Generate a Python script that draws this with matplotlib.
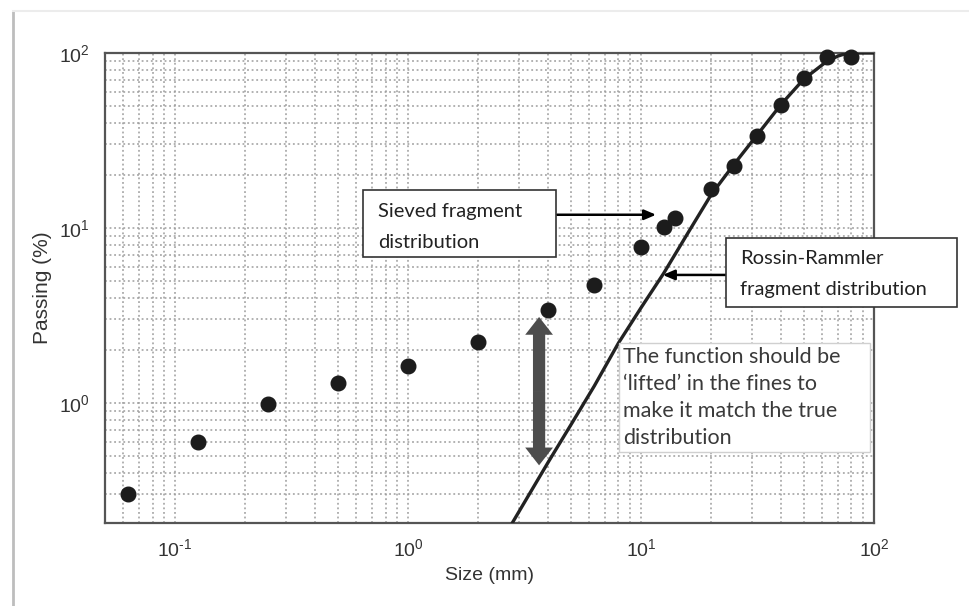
import matplotlib
matplotlib.use("Agg")
import math
import matplotlib.pyplot as plt
from matplotlib.patches import Rectangle, FancyArrowPatch
from matplotlib.lines import Line2D
from matplotlib.ticker import LogLocator, FuncFormatter, NullFormatter

plt.rcParams['mathtext.fontset'] = 'custom'
plt.rcParams['mathtext.rm'] = 'Liberation Sans'
plt.rcParams['mathtext.it'] = 'Liberation Sans'
plt.rcParams['font.family'] = ['Liberation Sans', 'DejaVu Sans']

# Sieved fragment distribution (points)
sieve_size = [0.063, 0.125, 0.25, 0.5, 1.0, 2.0, 4.0, 6.3, 10.0, 12.5, 14.0,
              20.0, 25.0, 31.5, 40.0, 50.0, 63.0, 80.0]
sieve_pass = [0.30, 0.60, 0.99, 1.30, 1.63, 2.23, 3.39, 4.7, 7.8, 10.1, 11.4,
              16.7, 22.6, 33.5, 50.6, 72.0, 95.0, 95.0]

# Rossin-Rammler curve
rr_size = [2.8, 4.0, 5.0, 6.3, 8.0, 10.0, 12.5, 16.0, 20.0, 25.0, 31.5,
           40.0, 50.0, 63.0, 70.0, 77.0, 100.0]
rr_pass = [0.206, 0.46, 0.75, 1.25, 2.2, 3.5, 5.5, 9.5, 15.5, 23.0, 34.0,
           51.0, 71.0, 90.0, 96.0, 100.0, 100.0]

# Annotation texts
box1_lines = ["Sieved fragment", "distribution"]
box2_lines = ["Rossin-Rammler", "fragment distribution"]
box3_lines = ["The function should be", "\u2018lifted\u2019 in the fines to",
              "make it match the true", "distribution"]

W, H = 969, 606
fig = plt.figure(figsize=(W / 100, H / 100), dpi=100)

def fx(px):
    return px / W

def fy(py):
    return 1 - py / H

ax = fig.add_axes([fx(105), fy(523), fx(874) - fx(105), fy(53) - fy(523)])
ax.set_xscale('log')
ax.set_yscale('log')
ax.set_xlim(0.05, 100)
ax.set_ylim(0.206, 100)

ax.grid(True, which='both', linestyle=(0, (1.2, 1.8)), color='#9c9c9c', linewidth=1.1)
ax.xaxis.set_major_locator(LogLocator(base=10, numticks=10))
ax.xaxis.set_minor_locator(LogLocator(base=10, subs=range(2, 10), numticks=20))
ax.yaxis.set_major_locator(LogLocator(base=10, numticks=10))
ax.yaxis.set_minor_locator(LogLocator(base=10, subs=range(2, 10), numticks=20))

def fmt(v, pos):
    e = int(round(math.log10(v)))
    s = str(e).replace('-', '\u2010')
    return r'$\mathregular{10^{%s}}$' % s

ax.xaxis.set_major_formatter(FuncFormatter(fmt))
ax.yaxis.set_major_formatter(FuncFormatter(fmt))
ax.xaxis.set_minor_formatter(NullFormatter())
ax.yaxis.set_minor_formatter(NullFormatter())
ax.tick_params(which='both', direction='in', length=0, labelsize=14,
               labelcolor='#333333')
ax.tick_params(axis='x', pad=11)
ax.tick_params(axis='y', pad=11)
for s in ax.spines.values():
    s.set_color('#555555')
    s.set_linewidth(1.6)

ax.plot(rr_size, rr_pass, color='#222222', linewidth=2.4, zorder=3, clip_on=True)
ax.plot(sieve_size, sieve_pass, linestyle='none', marker='o', markersize=10.5,
        color='#1c1c1c', zorder=4, clip_on=False)

ax.set_xlabel('Size (mm)', fontsize=14, color='#333333', labelpad=5)
ax.set_ylabel('Passing (%)', fontsize=15, color='#333333', labelpad=5)

# thick double-headed arrow
arr_x = 3.65
arr_mid = 1.17
for yend in (3.1, 0.44):
    a = FancyArrowPatch((arr_x, arr_mid), (arr_x, yend),
                        arrowstyle='simple,head_length=0.8,head_width=1.25,tail_width=0.55',
                        mutation_scale=16, color='#4d4d4d', linewidth=0,
                        shrinkA=0, shrinkB=0, zorder=5)
    ax.add_patch(a)

# thin arrows from boxes
ax.annotate('', xy=(11.6, 11.9), xytext=(4.36, 11.9),
            arrowprops=dict(arrowstyle='-|>,head_length=0.7,head_width=0.3',
                            color='black', lw=1.8, shrinkA=0, shrinkB=0), zorder=6)
ax.annotate('', xy=(12.4, 5.39), xytext=(23.4, 5.39),
            arrowprops=dict(arrowstyle='-|>,head_length=0.7,head_width=0.3',
                            color='black', lw=1.8, shrinkA=0, shrinkB=0), zorder=6)

def add_box(x0, y0, x1, y1, ec, lw):
    r = Rectangle((fx(x0), fy(y1)), fx(x1) - fx(x0), fy(y0) - fy(y1),
                  transform=fig.transFigure, facecolor='white', edgecolor=ec,
                  linewidth=lw, zorder=7)
    fig.add_artist(r)

TF = ['Lato', 'DejaVu Sans']
add_box(363, 190, 556, 257, '#333333', 1.2)
for i, t in enumerate(box1_lines):
    fig.text(fx(378), fy(212 + 30 * i), t, fontsize=14.5, family=TF, color='#222222',
             va='center', ha='left', zorder=8)

add_box(726, 238, 957, 307, '#333333', 1.2)
for i, t in enumerate(box2_lines):
    fig.text(fx(740), fy(259 + 30 * i), t, fontsize=14.5, family=TF, color='#222222',
             va='center', ha='left', zorder=8)

add_box(619, 343, 870, 452, '#d0d0d0', 1.0)
for i, t in enumerate(box3_lines):
    fig.text(fx(623), fy(357 + 27 * i), t, fontsize=15.5, family=TF, color='#3a3a3a',
             va='center', ha='left', zorder=8)

# page frame
fig.add_artist(Line2D([fx(13), fx(13)], [fy(11), 0], transform=fig.transFigure,
                      color='#bdbdbd', linewidth=2.0))
fig.add_artist(Line2D([fx(13), 1], [fy(11), fy(11)], transform=fig.transFigure,
                      color='#ececec', linewidth=1.5))

fig.savefig('out.png', dpi=100)
